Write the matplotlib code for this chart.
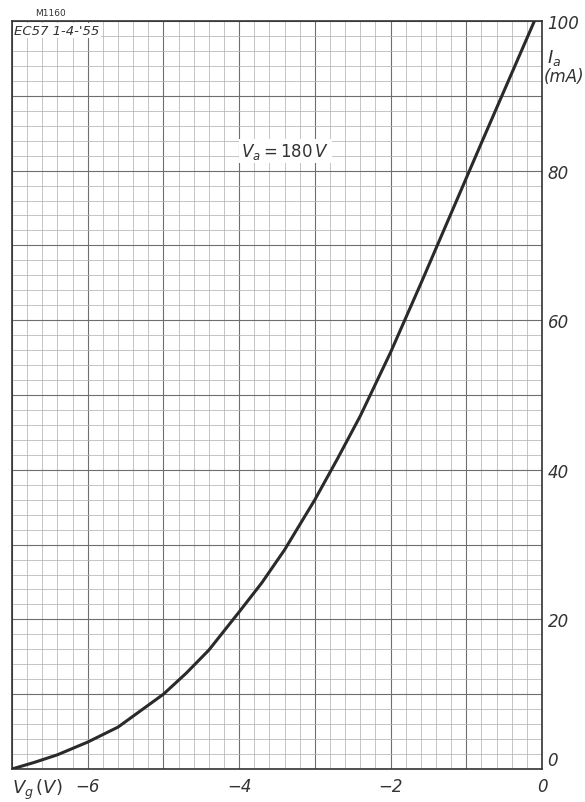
import numpy as np
import matplotlib.pyplot as plt

# Anode current vs grid voltage, Va = 180 V
vg = [-7.0, -6.7, -6.4, -6.0, -5.6, -5.0, -4.7, -4.4, -4.0, -3.7, -3.4,
      -3.0, -2.7, -2.4, -2.0, -1.6, -1.2, -0.8, -0.1]
ia = [0.0, 0.9, 1.9, 3.6, 5.6, 10.0, 12.8, 15.9, 21.0, 24.9, 29.3,
      36.0, 41.5, 47.2, 55.7, 64.9, 74.3, 83.7, 100.0]

x_ticks = [-6, -4, -2, 0]
x_labels = ['\u22126', '\u22124', '\u22122', '0']
y_ticks = [0, 20, 40, 60, 80, 100]
y_labels = ['0', '20', '40', '60', '80', '100']

plt.rcParams['font.family'] = ['DejaVu Sans']

fig = plt.figure(figsize=(5.85, 8.03), dpi=100)
ax = fig.add_axes([12 / 585, 33 / 803, 530 / 585, 748 / 803])

ax.set_xlim(-7, 0)
ax.set_ylim(0, 100)

# graph-paper grid: fine every 0.2 V / 2 mA, heavier every 1 V / 10 mA
for v in np.arange(-7, 0.01, 0.2):
    ax.axvline(v, color='#b4b4b4', lw=0.55, zorder=1)
for v in np.arange(-7, 0.01, 1):
    ax.axvline(v, color='#6e6e6e', lw=0.8, zorder=1)
for v in np.arange(0, 100.1, 2):
    ax.axhline(v, color='#b4b4b4', lw=0.55, zorder=1)
for v in np.arange(0, 100.1, 10):
    ax.axhline(v, color='#6e6e6e', lw=0.8, zorder=1)

ax.plot(vg, ia, color='#2a2a2a', lw=2.2, solid_capstyle='round',
        solid_joinstyle='round', zorder=3)

for s in ax.spines.values():
    s.set_color('#333333')
    s.set_linewidth(1.2)

ax.set_xticks(x_ticks)
ax.set_xticklabels(x_labels, fontsize=12, style='italic', color='#333333')
ax.yaxis.tick_right()
ax.set_yticks(y_ticks)
ax.set_yticklabels(y_labels, fontsize=12, style='italic', color='#333333')
ax.tick_params(which='both', length=0)
ax.tick_params(axis='x', pad=6)
ax.tick_params(axis='y', pad=4)
ax.get_yticklabels()[0].set_va('bottom')

ax.text(0.0, -0.01, r'$V_g\,(V)$', transform=ax.transAxes, ha='left', va='top',
        fontsize=13, color='#333333')
ax.text(1.01, 0.952, r'$I_a$', transform=ax.transAxes, ha='left', va='center',
        fontsize=13, color='#333333')
ax.text(1.004, 0.926, '(mA)', transform=ax.transAxes, ha='left', va='center',
        fontsize=12, style='italic', color='#333333')

ax.text(-3.97, 82.6, r'$V_a=180\,V$', ha='left', va='center', fontsize=12,
        color='#333333', zorder=4,
        bbox=dict(facecolor='white', edgecolor='none', pad=1.5))

ax.text(0.004, 0.996, "EC57 1-4-'55", transform=ax.transAxes, ha='left', va='top',
        fontsize=9.5, style='italic', color='#333333', zorder=4,
        bbox=dict(facecolor='white', edgecolor='none', pad=1.0))
fig.text(35 / 585, 1 - 13 / 803, 'M1160', ha='left', va='center', fontsize=6.5,
         color='#333333')

fig.savefig('out.png', dpi=100, facecolor='white')
